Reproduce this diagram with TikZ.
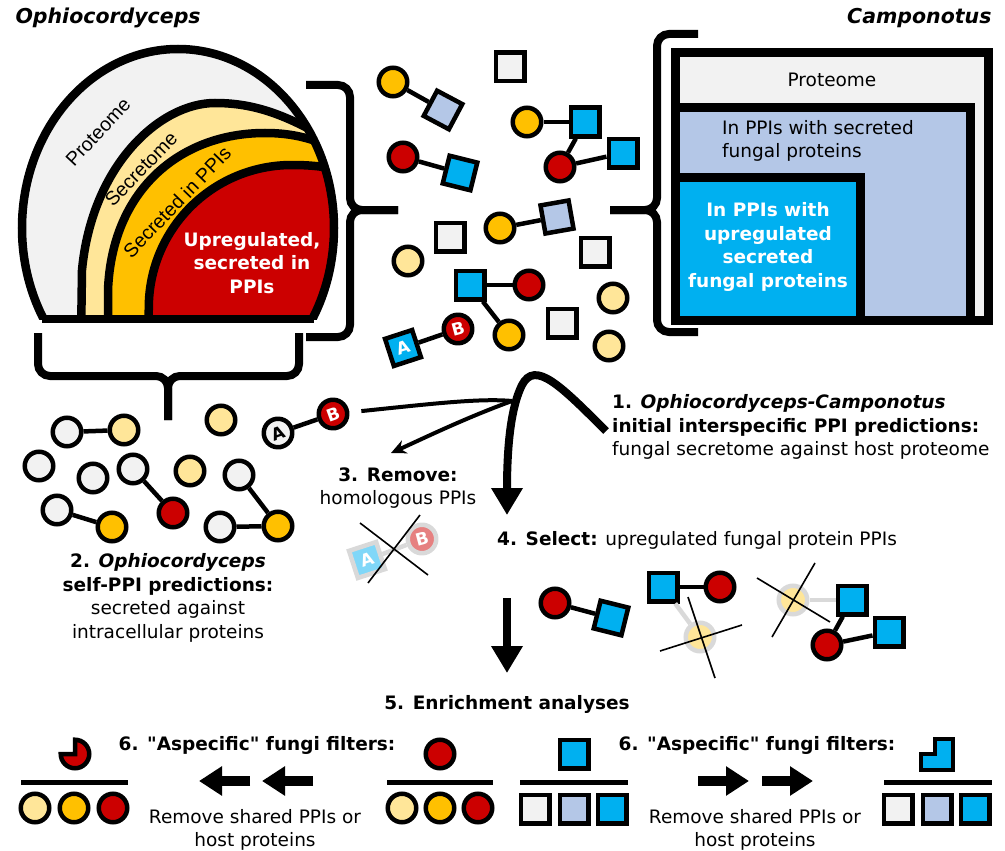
\documentclass[tikz,border=0pt]{standalone}
\usepackage{fontspec}
\setmainfont{DejaVu Sans}
\newfontfamily\arialfont{Liberation Sans}
\usetikzlibrary{arrows.meta}

\definecolor{greyf}{HTML}{F2F2F2}
\definecolor{lyel}{HTML}{FFE699}
\definecolor{gold}{HTML}{FFC000}
\definecolor{pred}{HTML}{CC0000}
\definecolor{pblue}{HTML}{00B0F0}
\definecolor{lblue}{HTML}{B4C7E7}
\definecolor{fadeln}{HTML}{D9D9D9}

\tikzset{
  prot/.style={circle, draw=black, line width=4.5pt, minimum size=28.5pt, inner sep=0pt},
  box/.style={rectangle, draw=black, line width=4.5pt, minimum size=28.5pt, inner sep=0pt},
  ghost/.style={draw=fadeln},
  letter/.style={font=\bfseries\fontsize{17}{17}\selectfont},
  link/.style={line width=4.5pt},
  glink/.style={line width=4.5pt, fadeln},
  xline/.style={line width=1.6pt},
  brc/.style={line width=8pt, rounded corners=12pt},
  lbl/.style={align=center, inner sep=0pt},
  flow/.style={line width=8pt, -{Triangle[length=27pt,width=30pt]}},
  blk/.style={line width=10pt, -{Triangle[length=23pt,width=28pt]}},
  layer/.style={draw=black, line width=8.5pt},
}

\begin{document}
\begin{tikzpicture}[x=1pt, y=-1pt, font=\fontsize{18.5}{23.5}\selectfont]
\useasboundingbox (0,0) rectangle (1005,851);

\node[anchor=west, font=\fontsize{20.5}{24}\selectfont\bfseries\itshape] (tOph) at (12,18) {Ophiocordyceps};
\node[anchor=east, font=\fontsize{20.5}{24}\selectfont\bfseries\itshape] (tCam) at (995,18) {Camponotus};

% fungal dome
\begin{scope}
  \clip (0,0) rectangle (400,319);
  \fill[greyf] (178,228) ellipse [x radius=156pt, y radius=179pt];
  \begin{scope}
    \clip (178,228) ellipse [x radius=156pt, y radius=179pt];
    \draw[layer, fill=lyel] (81,340) -- (82,270) .. controls (92,165) and (160,103) .. (215,103)
      .. controls (255,103) and (290,115) .. (345,150) -- (420,150) -- (420,340) -- cycle;
    \draw[layer, fill=gold] (108,340) -- (108,290) .. controls (112,190) and (180,133) .. (265,133)
      .. controls (300,133) and (330,142) .. (370,170) -- (420,170) -- (420,340) -- cycle;
    \draw[layer, fill=pred] (148,340) -- (149,300) .. controls (153,225) and (215,165) .. (292,165)
      .. controls (322,165) and (342,169) .. (382,182) -- (420,182) -- (420,340) -- cycle;
  \end{scope}
  \draw[line width=8.5pt] (178,228) ellipse [x radius=156pt, y radius=179pt];
\end{scope}
\draw[line width=8.5pt] (42,319) -- (314,319);

\node[rotate=47, font=\arialfont\fontsize{19.5}{22}\selectfont] (dProt) at (98,132) {Proteome};
\node[rotate=46, font=\arialfont\fontsize{19.5}{22}\selectfont] (dSec) at (141,169) {Secretome};
\node[rotate=46, font=\arialfont\fontsize{19.5}{22}\selectfont] (dPPI) at (177,202) {Secreted in PPIs};
\node[lbl, text=white, font=\fontsize{18.5}{23.5}\selectfont\bfseries] (dUp) at (252,263) {Upregulated,\\secreted in\\PPIs};

% braces
\draw[brc] (306,85) -| (350,210) -- (398,210);
\draw[brc] (306,337) -| (350,210) -- (398,210);
\draw[brc] (698,34) -| (657,210) -- (610,210);
\draw[brc] (698,332) -| (657,210) -- (610,210);
\draw[brc] (38,333) |- (168,376) -- (168,420);
\draw[brc] (299,333) |- (168,376) -- (168,420);

% host boxes
\draw[line width=9pt, fill=greyf] (675.5,52.5) rectangle (988.5,320.5);
\draw[line width=9pt, fill=lblue] (675.5,108) rectangle (970,320.5);
\draw[line width=9pt, fill=pblue] (675.5,177) rectangle (860,320.5);
\node[lbl] (bProt) at (832,80) {Proteome};
\node[lbl, anchor=west, align=left] (bSec) at (722,141) {In PPIs with secreted\\fungal proteins};
\node[lbl, text=white, font=\fontsize{18.5}{23.5}\selectfont\bfseries] (bUp) at (768,247) {In PPIs with\\upregulated\\secreted\\fungal proteins};

% interspecific PPIs
\node[prot, fill=gold] (m1) at (393,82) {};
\node[box, fill=lblue, rotate=-28] (m2) at (443,110) {};
\node[box, fill=greyf] (m3) at (510,67) {};
\node[prot, fill=gold] (m4) at (527,122) {};
\node[box, fill=pblue] (m5) at (585,122) {};
\node[prot, fill=pred] (m6) at (560,167) {};
\node[box, fill=pblue] (m7) at (623,153) {};
\node[prot, fill=pred] (m8) at (403,157) {};
\node[box, fill=pblue, rotate=-14] (m9) at (460,173) {};
\node[box, fill=greyf] (m10) at (450,237) {};
\node[prot, fill=lyel] (m11) at (408,261) {};
\node[prot, fill=gold] (m12) at (500,228) {};
\node[box, fill=lblue, rotate=10] (m13) at (557,217) {};
\node[box, fill=greyf] (m14) at (595,252) {};
\node[box, fill=pblue] (m15) at (470,285) {};
\node[prot, fill=pred] (m16) at (529,285) {};
\node[prot, fill=gold] (m17) at (509,335) {};
\node[box, fill=greyf] (m18) at (562,323) {};
\node[prot, fill=lyel] (m19) at (613,298) {};
\node[prot, fill=lyel] (m20) at (609,346) {};
\node[box, fill=pblue, rotate=18, text=white, letter] (mA) at (403,348) {A};
\node[prot, fill=pred, rotate=15, text=white, letter] (mB) at (458,329) {B};
\foreach \a/\b in {m1/m2, m4/m5, m5/m6, m6/m7, m8/m9, m12/m13, m15/m16, m15/m17, mA/mB}
  \draw[link] (\a) -- (\b);

% self PPIs
\node[prot, fill=greyf] (s1) at (67,432) {};
\node[prot, fill=lyel] (s2) at (124,430) {};
\node[prot, fill=greyf] (s3) at (39,466) {};
\node[prot, fill=greyf] (s4) at (93,478) {};
\node[prot, fill=greyf] (s5) at (133,469) {};
\node[prot, fill=pred] (s6) at (173,513) {};
\node[prot, fill=lyel] (s7) at (221,420) {};
\node[prot, fill=lyel] (s8) at (190,471) {};
\node[prot, fill=greyf] (s9) at (239,475) {};
\node[prot, fill=gold] (s10) at (278,526) {};
\node[prot, fill=greyf] (s11) at (57,510) {};
\node[prot, fill=gold] (s12) at (112,527) {};
\node[prot, fill=greyf] (s13) at (220,527) {};
\node[prot, fill=greyf, rotate=20, letter] (sA) at (278,433) {A};
\node[prot, fill=pred, rotate=20, text=white, letter] (sB) at (333,414) {B};
\foreach \a/\b in {s1/s2, s5/s6, s9/s10, s11/s12, s13/s10, sA/sB}
  \draw[link] (\a) -- (\b);

% flow
\coordinate (jn) at (512,401);
\coordinate (remTip) at (391,453);
\coordinate (oneEnd) at (606,431);
\coordinate (selTip) at (507,515);
\coordinate (enrTop) at (507,598);
\coordinate (enrTip) at (507,673);
\draw[line width=4pt, shorten <=12pt] (sB) .. controls (430,404) and (480,398) .. (jn);
\draw[line width=4pt, -{Stealth[length=15pt,width=14pt]}] (jn) .. controls (465,418) and (420,440) .. (remTip);
\draw[flow] (oneEnd) .. controls (560,385) and (535,360) .. (522,385) .. controls (512,405) and (507,440) .. (selTip);
\draw[flow] (enrTop) -- (enrTip);

\node[lbl, anchor=west, align=left] (step1) at (612,427) {\textbf{1. \textit{Ophiocordyceps-Camponotus}}\\\textbf{initial interspecific PPI predictions:}\\fungal secretome against host proteome};
\node[lbl] (step2) at (168,598) {\textbf{2. \textit{Ophiocordyceps}}\\\textbf{self-PPI predictions:}\\secreted against\\intracellular proteins};
\node[lbl] (step3) at (398,488) {\textbf{3. Remove:}\\homologous PPIs};
\node[lbl, anchor=west] (step4) at (497,540) {\textbf{4. Select:} upregulated fungal protein PPIs};
\node[lbl] (step5) at (507,704) {\textbf{5. Enrichment analyses}};

% removed homologous pair
\node[box, ghost, fill=pblue!50, rotate=18, text=white, letter] (hA) at (367,560) {A};
\node[prot, ghost, fill=pred!50, rotate=15, text=white, letter] (hB) at (422,539) {B};
\draw[glink] (hA) -- (hB);
\draw[xline] (360,523) -- (428,575);
\draw[xline] (420,515) -- (368,583);

% selected PPIs
\node[prot, fill=pred] (p1) at (555,603) {};
\node[box, fill=pblue, rotate=-14] (p2) at (611,618) {};
\node[box, fill=pblue] (p3) at (663,587) {};
\node[prot, fill=pred] (p4) at (720,587) {};
\node[prot, ghost, fill=lyel] (p5) at (700,637) {};
\node[prot, ghost, fill=lyel] (p6) at (793,600) {};
\node[box, fill=pblue] (p7) at (852,600) {};
\node[prot, fill=pred] (p8) at (827,645) {};
\node[box, fill=pblue] (p9) at (889,632) {};
\draw[glink] (p3) -- (p5);
\draw[glink] (p6) -- (p7);
\foreach \a/\b in {p1/p2, p3/p4, p7/p8, p8/p9}
  \draw[link] (\a) -- (\b);
\draw[xline] (688,597) -- (715,678);
\draw[xline] (660,651) -- (742,625);
\draw[xline] (757,578) -- (830,622);
\draw[xline] (815,563) -- (772,637);

% enrichment and filters
\draw[line width=4.5pt, fill=pred] (75,754) -- ++(0,-14.25) arc[start angle=90, end angle=-180, radius=14.25pt] -- cycle;
\node[prot, fill=pred] (eRed) at (440,754) {};
\node[box, fill=pblue] (eBlue) at (574,754) {};
\draw[line width=4.5pt, fill=pblue] (921,754) -- (935,754) -- (935,739) -- (953,739) -- (953,770) -- (921,770) -- cycle;
\foreach \x/\c [count=\i] in {35/lyel,74/gold,113/pred}
  \node[prot, fill=\c] (fL\i) at (\x,808) {};
\foreach \x/\c [count=\i] in {402/lyel,440/gold,478/pred}
  \node[prot, fill=\c] (fM\i) at (\x,808) {};
\foreach \x/\c [count=\i] in {535/greyf,574/lblue,612/pblue}
  \node[box, fill=\c] (hM\i) at (\x,809) {};
\foreach \x/\c [count=\i] in {898/greyf,937/lblue,975/pblue}
  \node[box, fill=\c] (hR\i) at (\x,809) {};
\foreach \a/\b in {21/128, 387/493, 520/628, 884/992}
  \draw[line width=5pt] (\a,782) -- (\b,782);
\foreach \x in {250,313}
  \draw[blk] (\x,781) -- ++(-51,0);
\foreach \x in {698,762}
  \draw[blk] (\x,781) -- ++(51,0);

\node[lbl] (filtL) at (257,745) {\textbf{6. \textquotedbl Aspecific\textquotedbl{} fungi filters:}};
\node[lbl] (filtR) at (757,745) {\textbf{6. \textquotedbl Aspecific\textquotedbl{} fungi filters:}};
\node[lbl] (remL) at (255,830) {Remove shared PPIs or\\host proteins};
\node[lbl] (remR) at (755,830) {Remove shared PPIs or\\host proteins};
\end{tikzpicture}
\end{document}
